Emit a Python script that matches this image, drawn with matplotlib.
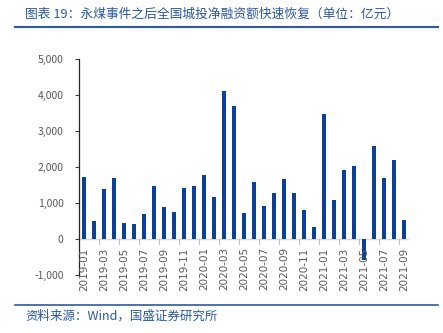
import matplotlib
matplotlib.use("Agg")
import matplotlib.pyplot as plt
from matplotlib.lines import Line2D
from matplotlib.ticker import FuncFormatter

plt.rcParams["font.family"] = ["Noto Sans CJK SC", "DejaVu Sans"]

# monthly net financing of urban investment bonds, 100 million yuan
months = [
    "2019-01", "2019-02", "2019-03", "2019-04", "2019-05", "2019-06",
    "2019-07", "2019-08", "2019-09", "2019-10", "2019-11", "2019-12",
    "2020-01", "2020-02", "2020-03", "2020-04", "2020-05", "2020-06",
    "2020-07", "2020-08", "2020-09", "2020-10", "2020-11", "2020-12",
    "2021-01", "2021-02", "2021-03", "2021-04", "2021-05", "2021-06",
    "2021-07", "2021-08", "2021-09",
]
net_financing = [
    1730, 500, 1390, 1690, 435, 417,
    704, 1472, 898, 750, 1417, 1472,
    1778, 1167, 4120, 3694, 722, 1574,
    907, 1287, 1657, 1268, 805, 324,
    3463, 1083, 1926, 2028, -590, 2583,
    1704, 2194, 528,
]
y_ticks = [-1000, 0, 1000, 2000, 3000, 4000, 5000]

BAR_BLUE = "#0a3f9a"
TEXT_GREY = "#595959"
TITLE_BLUE = "#2a58a3"

fig = plt.figure(figsize=(4.43, 3.33), dpi=100)
ax = fig.add_axes([79 / 443, 1 - 275 / 333, 330 / 443, 216 / 333])

x = list(range(len(months)))
ax.bar(x, net_financing, width=0.32, color=BAR_BLUE, zorder=3)
ax.axhline(0, color="#d9d9d9", lw=1.0, zorder=2)

ax.set_xlim(-0.5, len(months) - 0.5)
ax.set_ylim(y_ticks[0], y_ticks[-1])

# y axis
ax.set_yticks(y_ticks)
ax.yaxis.set_major_formatter(FuncFormatter(lambda v, _: f"{int(v):,}"))
ax.tick_params(axis="y", length=3, width=0.8, color="#404040",
               labelsize=7.5, labelcolor=TEXT_GREY, pad=8)

# x axis: no ticks of its own; labels every other month hang under the zero line
ax.set_xticks([])
for v in x[::2]:
    ax.add_line(Line2D([v - 0.5, v - 0.5], [0, -130], color="#bfbfbf",
                       lw=0.8, clip_on=False, zorder=2))
    ax.text(v, -230, months[v], rotation=90, ha="center", va="top",
            fontsize=7.5, color=TEXT_GREY, family="DejaVu Sans")

for side in ("top", "right", "bottom"):
    ax.spines[side].set_visible(False)
ax.spines["left"].set_color("#262626")
ax.spines["left"].set_linewidth(0.9)

# header and footer
fig.text(25 / 443, 1 - 14 / 333,
         "图表 19：永煤事件之后全国城投净融资额快速恢复（单位：亿元）",
         fontsize=9.2, color=TITLE_BLUE, ha="left", va="center")
fig.add_artist(Line2D([15 / 443, 438 / 443], [1 - 27 / 333] * 2,
                      color="#2e5b9e", lw=1.5))
fig.add_artist(Line2D([15 / 443, 438 / 443], [1 - 305 / 333] * 2,
                      color="#2e5b9e", lw=1.2))
fig.text(25 / 443, 1 - 316 / 333, "资料来源：Wind，国盛证券研究所",
         fontsize=9, color=TITLE_BLUE, ha="left", va="center")

fig.savefig("out.png", dpi=100)
